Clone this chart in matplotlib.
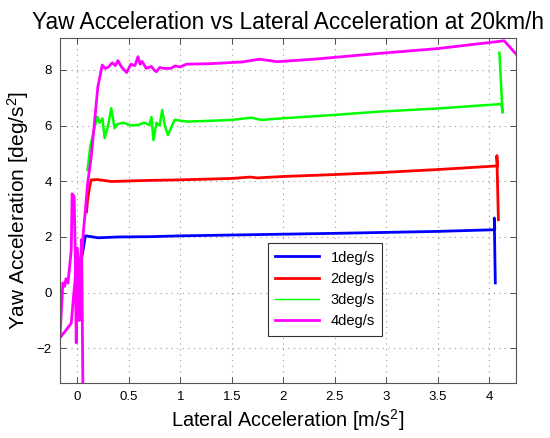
import matplotlib
matplotlib.use("Agg")
import matplotlib.pyplot as plt

plt.rcParams['font.family'] = ['Liberation Sans', 'DejaVu Sans']
plt.rcParams['mathtext.default'] = 'regular'

# 1 deg/s
x1 = [0.04, 0.06, 0.078, 0.12, 0.2, 0.4, 0.7, 1.0, 1.5, 2.0, 2.5, 2.94, 3.5, 4.055, 4.05, 4.06]
y1 = [1.2, 1.6, 2.04, 2.02, 1.97, 2.0, 2.01, 2.04, 2.07, 2.1, 2.13, 2.16, 2.2, 2.26, 2.68, 0.35]

# 2 deg/s
x2 = [0.09, 0.1, 0.12, 0.136, 0.2, 0.33, 0.5, 0.7, 1.0, 1.5, 1.68, 1.75, 2.0, 2.5, 2.94, 3.5, 4.08, 4.075, 4.09]
y2 = [2.9, 3.3, 3.8, 4.05, 4.06, 3.99, 4.01, 4.03, 4.05, 4.1, 4.15, 4.12, 4.17, 4.24, 4.31, 4.42, 4.55, 4.92, 2.62]

# 3 deg/s
x3 = [0.1, 0.126, 0.16, 0.194, 0.217, 0.245, 0.266, 0.3, 0.33, 0.363, 0.39, 0.45, 0.52, 0.59, 0.65, 0.70,
      0.72, 0.74, 0.77, 0.8, 0.825, 0.85, 0.88, 0.945, 1.07, 1.3, 1.5, 1.69, 1.79, 2.0, 2.5, 2.94, 3.5,
      4.12, 4.13, 4.10]
y3 = [4.4, 5.24, 5.8, 6.32, 6.1, 6.25, 5.55, 6.0, 6.62, 5.9, 6.05, 6.1, 6.0, 6.02, 6.1, 6.02,
      6.3, 5.48, 6.1, 6.0, 6.56, 6.0, 5.66, 6.2, 6.14, 6.17, 6.2, 6.28, 6.2, 6.26, 6.38, 6.5, 6.61,
      6.77, 6.46, 8.61]

# 4 deg/s
x4 = [0.055, 0.045, 0.04, 0.03, 0.025, 0.02, 0.01, 0.0, -0.01, -0.02, -0.03, -0.05, -0.058, -0.09,
      -0.11, -0.122, -0.14, -0.168, -0.1, -0.058, -0.04, -0.02, 0.0, 0.02, 0.035, 0.045, 0.06, 0.08,
      0.1, 0.136, 0.2, 0.243, 0.27, 0.30, 0.34, 0.37, 0.395, 0.43, 0.48, 0.52, 0.56, 0.59, 0.61,
      0.63, 0.67, 0.72, 0.75, 0.77, 0.80, 0.84, 0.91, 0.95, 1.0, 1.06, 1.3, 1.6, 1.77, 1.94, 2.3,
      2.94, 3.5, 4.146, 4.26]
y4 = [-3.4, 0.6, 1.9, -0.6, 1.2, -1.0, 1.0, 0.2, -1.8, 1.5, 3.45, 3.55, 1.54, 0.35,
      0.5, 0.23, 0.35, -1.62, -1.3, -1.09, -0.3, 0.5, 1.6, 0.8, 1.18, 1.4, 2.2, 3.0,
      3.9, 4.89, 7.39, 8.17, 8.05, 8.09, 8.25, 8.15, 8.33, 8.1, 7.9, 8.2, 8.15, 8.47, 8.2,
      8.3, 8.05, 8.12, 7.98, 7.93, 8.08, 8.05, 8.05, 8.14, 8.1, 8.2, 8.22, 8.28, 8.38, 8.29, 8.38,
      8.59, 8.76, 9.04, 8.57]

series = [
    (x1, y1, '#0000ff', 2.0, '1deg/s'),
    (x2, y2, '#ff0000', 2.0, '2deg/s'),
    (x3, y3, '#00ff00', 1.8, '3deg/s'),
    (x4, y4, '#ff00ff', 2.0, '4deg/s'),
]

fig = plt.figure(figsize=(5.5, 4.38), dpi=100)
ax = fig.add_axes([0.109, 0.1256, 0.829, 0.787])

handles = []
for xs, ys, c, lw, lab in series:
    ax.plot(xs, ys, color=c, lw=lw, solid_joinstyle='round')
    h, = ax.plot([], [], color=c, lw=1.0 if lab == '3deg/s' else 2.0, label=lab)
    handles.append(h)

ax.set_xlim(-0.168, 4.26)
ax.set_ylim(-3.24, 9.13)
ax.set_xticks([0, 0.5, 1, 1.5, 2, 2.5, 3, 3.5, 4])
ax.set_xticklabels(['0', '0.5', '1', '1.5', '2', '2.5', '3', '3.5', '4'])
ax.set_yticks([-2, 0, 2, 4, 6, 8])
ax.tick_params(direction='in', top=True, right=True, length=4, width=0.6,
               labelsize=9.5, pad=6, color='#333333')
ax.grid(True, linestyle=(0, (1, 4)), color='#999999', linewidth=0.8)
for s in ax.spines.values():
    s.set_color('#555555')
    s.set_linewidth(0.8)

ax.set_title('Yaw Acceleration vs Lateral Acceleration at 20km/h', fontsize=16.3, pad=7)
ax.set_xlabel('Lateral Acceleration [m/s$^2$]', fontsize=14.3, labelpad=3)
ax.set_ylabel('Yaw Acceleration [deg/s$^2$]', fontsize=15, labelpad=4)

leg = ax.legend(handles=handles, loc='lower left', bbox_to_anchor=(0.44, 0.116),
                fontsize=10.5, fancybox=False, framealpha=1, edgecolor='#333333',
                handlelength=3.0, borderpad=0.5, labelspacing=0.5)
leg.get_frame().set_linewidth(0.8)

fig.savefig('out.png', dpi=100)
